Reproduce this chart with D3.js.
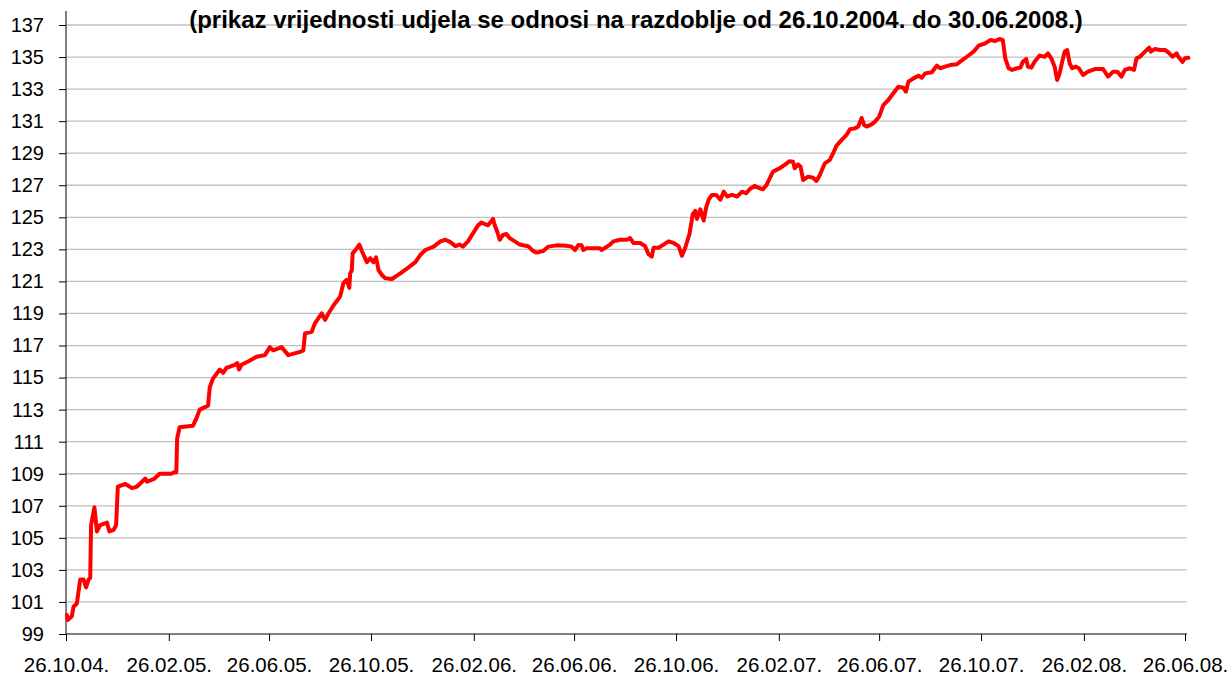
<!DOCTYPE html>
<html>
<head>
<meta charset="utf-8">
<script src="https://cdn.jsdelivr.net/npm/d3@7"></script>
<style>
  body { margin: 0; background: #fff; }
  svg { display: block; font-family: "Liberation Sans", Arial, sans-serif; }
</style>
</head>
<body>
<svg id="chart" width="1231" height="680"></svg>
<script>
let title = "(prikaz vrijednosti udjela se odnosi na razdoblje od 26.10.2004. do 30.06.2008.)";

let startDate = "26.10.04.";
let endDate = "30.06.08.";

let xTickLabels = ["26.10.04.", "26.02.05.", "26.06.05.", "26.10.05.", "26.02.06.", "26.06.06.",
  "26.10.06.", "26.02.07.", "26.06.07.", "26.10.07.", "26.02.08.", "26.06.08."];

let yTicks = d3.range(99, 138, 2);

// days counted from 26.10.2004
let dayOffsets = [
  1, 2, 7, 9, 13, 17, 21, 24, 27, 29, 30, 34, 37, 41, 49, 52, 57, 60, 62, 71,
  79, 85, 95, 97, 106, 112, 126, 130, 132, 133, 136, 152, 156, 160, 170, 172, 176, 184, 188, 192,
  202, 205, 207, 210, 218, 228, 238, 244, 248, 258, 266, 280, 284, 286, 294, 298, 306, 310, 314, 320,
  328, 332, 336, 339, 340, 342, 343, 348, 351, 354, 360, 364, 368, 371, 374, 378, 382, 390, 400, 408,
  418, 424, 430, 440, 448, 454, 460, 466, 471, 475, 481, 487, 493, 497, 505, 511, 513, 516, 519, 523,
  527, 531, 537, 543, 553, 559, 563, 571, 577, 587, 599, 605, 609, 613, 617, 619, 623, 639, 641, 651,
  655, 663, 671, 675, 679, 687, 693, 697, 701, 703, 709, 715, 721, 727, 733, 737, 741, 746, 750, 753,
  755, 759, 763, 766, 769, 773, 778, 783, 787, 791, 797, 803, 809, 814, 818, 824, 828, 834, 838, 846,
  854, 860, 866, 870, 872, 876, 879, 882, 888, 894, 898, 902, 908, 914, 918, 922, 928, 934, 938, 944,
  948, 952, 955, 958, 964, 968, 973, 978, 984, 990, 996, 1002, 1005, 1008, 1014, 1020, 1024, 1028, 1036, 1042,
  1046, 1052, 1058, 1066, 1070, 1078, 1086, 1092, 1100, 1106, 1112, 1117, 1121, 1124, 1128, 1132, 1138, 1142, 1145, 1149,
  1151, 1155, 1159, 1165, 1171, 1175, 1179, 1183, 1186, 1189, 1192, 1195, 1198, 1201, 1204, 1208, 1212, 1217, 1223, 1231,
  1241, 1247, 1253, 1258, 1263, 1267, 1273, 1278, 1281, 1285, 1289, 1296, 1298, 1303, 1309, 1315, 1319, 1324, 1329, 1331,
  1336, 1339, 1343
];

let unitValues = [
  100.19, 99.87, 100.1, 100.7, 100.9, 102.4, 102.4, 101.9, 102.4, 102.5, 105.8, 106.9, 105.4, 105.8, 105.95, 105.4, 105.5, 105.8, 108.2, 108.36,
  108.1, 108.2, 108.7, 108.5, 108.7, 109.0, 109.0, 109.1, 109.1, 111.2, 111.9, 112.0, 112.45, 113.0, 113.25, 114.4, 114.95, 115.5, 115.3, 115.6,
  115.8, 115.9, 115.5, 115.8, 116.0, 116.3, 116.4, 116.9, 116.7, 116.9, 116.4, 116.6, 116.7, 117.76, 117.86, 118.4, 119.0, 118.6, 119.0, 119.5,
  120.05, 120.9, 121.1, 120.6, 121.5, 121.7, 122.75, 123.07, 123.3, 122.9, 122.2, 122.45, 122.2, 122.5, 121.7, 121.4, 121.2, 121.15, 121.5, 121.8,
  122.2, 122.65, 122.96, 123.17, 123.5, 123.6, 123.45, 123.2, 123.3, 123.17, 123.5, 124.0, 124.5, 124.67, 124.5, 124.9, 124.5, 124.1, 123.6, 123.9,
  123.96, 123.7, 123.5, 123.3, 123.2, 122.9, 122.8, 122.9, 123.17, 123.25, 123.23, 123.17, 122.96, 123.27, 123.25, 122.96, 123.07, 123.07, 122.96, 123.3,
  123.5, 123.6, 123.6, 123.7, 123.4, 123.4, 123.2, 122.7, 122.55, 123.1, 123.1, 123.3, 123.5, 123.4, 123.2, 122.6, 123.1, 123.95, 125.2, 125.4,
  124.9, 125.5, 124.8, 125.6, 126.1, 126.4, 126.4, 126.1, 126.6, 126.3, 126.4, 126.3, 126.6, 126.5, 126.75, 126.96, 126.86, 126.75, 127.0, 127.85,
  128.06, 128.27, 128.5, 128.47, 128.06, 128.3, 128.16, 127.33, 127.54, 127.47, 127.27, 127.64, 128.37, 128.58, 129.0, 129.47, 129.82, 130.14, 130.5, 130.55,
  130.66, 131.2, 130.76, 130.66, 130.8, 130.97, 131.28, 132.0, 132.32, 132.74, 133.15, 133.09, 132.84, 133.46, 133.67, 133.84, 133.71, 133.98, 134.05, 134.46,
  134.3, 134.4, 134.5, 134.55, 134.71, 135.02, 135.34, 135.71, 135.86, 136.06, 136.0, 136.13, 136.06, 134.9, 134.3, 134.2, 134.3, 134.34, 134.7, 134.88,
  134.4, 134.34, 134.7, 135.09, 135.02, 135.23, 134.92, 134.4, 133.57, 133.98, 134.7, 135.34, 135.44, 134.6, 134.3, 134.4, 134.3, 133.88, 134.09, 134.25,
  134.25, 133.78, 134.09, 134.09, 133.78, 134.2, 134.3, 134.2, 134.92, 135.02, 135.23, 135.59, 135.34, 135.5, 135.44, 135.44, 135.3, 135.02, 135.23, 135.02,
  134.7, 134.92, 134.96
];

let parseDate = d3.timeParse("%d.%m.%y.");
let start = parseDate(startDate);
let end = parseDate(endDate);

let data = dayOffsets.map((d, i) => ({
  date: d3.timeDay.offset(start, d),
  value: unitValues[i]
}));

let svg = d3.select("#chart");

// plot area
let plotLeft = 66;
let plotTop = 25;
let plotBottom = 634;
let lastTick = parseDate("26.06.08.");
let plotRight = plotLeft + (1185 - plotLeft) * (d3.timeDay.count(start, end) / d3.timeDay.count(start, lastTick));
let gridRight = 1187;

let x = d3.scaleTime().domain([start, end]).range([plotLeft, plotRight]);
let y = d3.scaleLinear().domain([99, 137]).range([plotBottom, plotTop]);

// horizontal grid lines
svg.append("g").
selectAll("line").
data(yTicks.filter(d => d > 99)).
enter().
append("line").
attr("x1", plotLeft).
attr("x2", gridRight).
attr("y1", d => y(d)).
attr("y2", d => y(d)).
attr("stroke", "#c0c0c0").
attr("stroke-width", 1.3);

// y axis
let yAxis = svg.append("g").
attr("transform", `translate(${plotLeft},0)`).
call(d3.axisLeft(y).tickValues(yTicks).tickSize(7).tickPadding(15).tickFormat(d3.format("d")));
yAxis.select(".domain").remove();
yAxis.append("line").
attr("x1", 0).attr("x2", 0).
attr("y1", plotTop - 14).attr("y2", plotBottom).
attr("stroke", "#000");
yAxis.selectAll("text").
attr("font-size", 20).
attr("fill", "#000").
attr("font-family", "Liberation Sans, Arial, sans-serif");

// x axis
let xAxis = svg.append("g").
attr("transform", `translate(0,${plotBottom})`).
call(d3.axisBottom(x).
tickValues(xTickLabels.map(parseDate)).
tickSize(7).
tickPadding(16).
tickFormat((d, i) => xTickLabels[i]));
xAxis.select(".domain").remove();
xAxis.append("line").
attr("x1", plotLeft).attr("x2", gridRight).
attr("y1", 0).attr("y2", 0).
attr("stroke", "#000");
xAxis.selectAll("text").
attr("font-size", 20.5).
attr("fill", "#000").
attr("font-family", "Liberation Sans, Arial, sans-serif");

// line
let line = d3.line().
x(d => x(d.date)).
y(d => y(d.value));

svg.append("path").
datum(data).
attr("fill", "none").
attr("stroke", "#ff0000").
attr("stroke-width", 4).
attr("stroke-linejoin", "round").
attr("stroke-linecap", "round").
attr("d", line);

// title
svg.append("text").
attr("x", 636).
attr("y", 28).
attr("text-anchor", "middle").
attr("font-size", 24).
attr("font-weight", "bold").
attr("fill", "#000").
text(title);
</script>
</body>
</html>
